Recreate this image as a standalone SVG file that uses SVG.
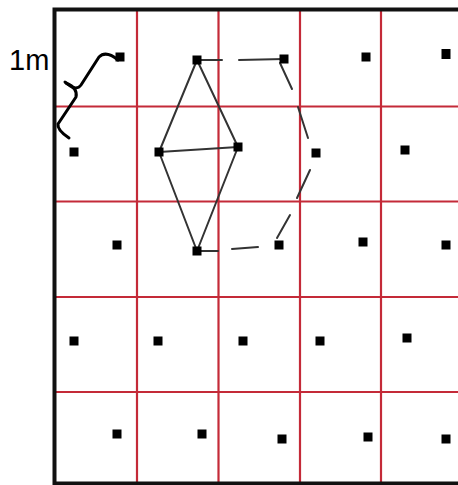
<svg xmlns="http://www.w3.org/2000/svg" width="458" height="485" viewBox="0 0 458 485">
<style>
.grid{stroke:#c42a38;stroke-width:2.2;fill:none}
.border{stroke:#111;stroke-width:4;fill:none}
.dot{fill:#000}
.solid{stroke:#333;stroke-width:2;fill:none;stroke-linecap:round}
.dash{stroke:#333;stroke-width:2;fill:none;stroke-linecap:round}
.brace{stroke:#000;stroke-width:3;fill:none;stroke-linecap:round;stroke-linejoin:round}
.lbl{font-family:"Liberation Sans",Arial,sans-serif;font-size:29px;fill:#000}
</style>
<rect width="458" height="485" fill="#fff"/>
<g id="grid">
<line class="grid" x1="137" y1="10" x2="137" y2="483"/>
<line class="grid" x1="218.5" y1="10" x2="218.5" y2="483"/>
<line class="grid" x1="300" y1="10" x2="300" y2="483"/>
<line class="grid" x1="381" y1="10" x2="381" y2="483"/>
<line class="grid" x1="54" y1="106.5" x2="458" y2="106.5"/>
<line class="grid" x1="54" y1="201.5" x2="458" y2="201.5"/>
<line class="grid" x1="54" y1="297" x2="458" y2="297"/>
<line class="grid" x1="54" y1="392" x2="458" y2="392"/>
</g>
<g id="border">
<path class="border" d="M460,9.5 H54.5 V483.5 H460"/>
</g>
<g id="connectors">
<line class="solid" x1="197" y1="60" x2="159" y2="152"/>
<line class="solid" x1="197" y1="60" x2="238" y2="147"/>
<line class="solid" x1="159" y1="152" x2="238" y2="147"/>
<line class="solid" x1="159" y1="152" x2="197" y2="251"/>
<line class="solid" x1="238" y1="147" x2="197" y2="251"/>
<line class="dash" x1="197" y1="60" x2="222" y2="60"/>
<line class="dash" x1="239" y1="60" x2="284" y2="59"/>
<line class="dash" x1="280" y1="63" x2="292" y2="89"/>
<line class="dash" x1="298" y1="107" x2="308" y2="138"/>
<line class="dash" x1="310" y1="170" x2="297" y2="198"/>
<line class="dash" x1="290" y1="215" x2="277" y2="238"/>
<line class="dash" x1="197" y1="251" x2="218" y2="251"/>
<line class="dash" x1="232" y1="249" x2="258" y2="247"/>
</g>
<g id="points">
<rect class="dot" x="115.5" y="52.5" width="9" height="9"/>
<rect class="dot" x="192.5" y="55.5" width="9" height="9"/>
<rect class="dot" x="279.5" y="54.5" width="9" height="9"/>
<rect class="dot" x="361.5" y="52.5" width="9" height="9"/>
<rect class="dot" x="441.5" y="49" width="9" height="10"/>
<rect class="dot" x="69.5" y="147.5" width="9" height="9"/>
<rect class="dot" x="154.5" y="147.5" width="9" height="9"/>
<rect class="dot" x="233.5" y="142.5" width="9" height="9"/>
<rect class="dot" x="311.5" y="148.5" width="9" height="9"/>
<rect class="dot" x="400.5" y="145.5" width="9" height="9"/>
<rect class="dot" x="112.5" y="240.5" width="9" height="9"/>
<rect class="dot" x="192.5" y="246.5" width="9" height="9"/>
<rect class="dot" x="274.5" y="240.5" width="9" height="9"/>
<rect class="dot" x="358.5" y="237.5" width="9" height="9"/>
<rect class="dot" x="441.5" y="240.5" width="9" height="9"/>
<rect class="dot" x="69.5" y="336.5" width="9" height="9"/>
<rect class="dot" x="153.5" y="336.5" width="9" height="9"/>
<rect class="dot" x="238.5" y="336.5" width="9" height="9"/>
<rect class="dot" x="315.5" y="336.5" width="9" height="9"/>
<rect class="dot" x="402.5" y="333.5" width="9" height="9"/>
<rect class="dot" x="112.5" y="429.5" width="9" height="9"/>
<rect class="dot" x="197.5" y="429.5" width="9" height="9"/>
<rect class="dot" x="277.5" y="434.5" width="9" height="9"/>
<rect class="dot" x="363.5" y="432.5" width="9" height="9"/>
<rect class="dot" x="441.5" y="434.5" width="9" height="9"/>
</g>
<g id="scale">
<path class="brace" d="M118,60 Q106,50 99,57 L81,85 Q76,92 65,82"/>
<path class="brace" d="M66,83 Q78,88 76,97 L58,124 Q57,130 69,138"/>
<text class="lbl" x="9" y="70">1m</text>
</g>
</svg>
